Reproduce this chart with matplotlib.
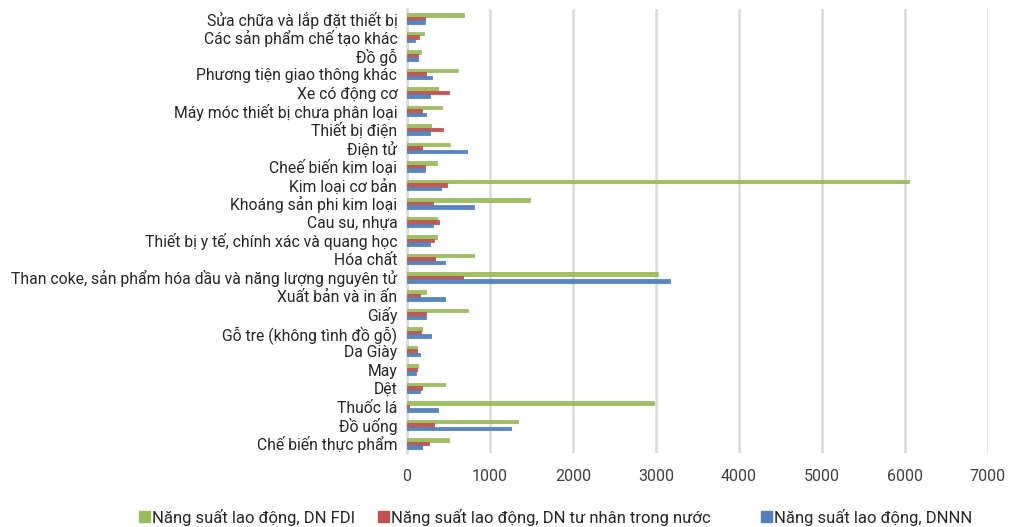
import matplotlib
matplotlib.use("Agg")
import matplotlib.pyplot as plt
import matplotlib.transforms as mtransforms
from matplotlib.patches import Patch
import numpy as np

plt.rcParams['font.family'] = ['Roboto', 'DejaVu Sans']

# Industries, listed bottom to top
categories = [
    "Chế biến thực phẩm", "Đồ uống", "Thuốc lá", "Dệt", "May", "Da Giày",
    "Gỗ tre (không tình đồ gỗ)", "Giấy", "Xuất bản và in ấn",
    "Than coke, sản phẩm hóa dầu và năng lượng nguyên tử", "Hóa chất",
    "Thiết bị y tế, chính xác và quang học", "Cau su, nhựa",
    "Khoáng sản phi kim loại", "Kim loại cơ bản", "Cheế biến kim loại",
    "Điện tử", "Thiết bị điện", "Máy móc thiết bị chưa phân loại",
    "Xe có động cơ", "Phương tiện giao thông khác", "Đồ gỗ",
    "Các sản phẩm chế tạo khác", "Sửa chữa và lắp đặt thiết bị",
]

# Labour productivity by ownership type
fdi = [508, 1339, 2972, 452, 129, 121, 177, 730, 234, 3028, 802, 359, 363,
       1480, 6050, 367, 512, 290, 427, 375, 609, 169, 202, 690]
private = [270, 323, 28, 177, 117, 117, 173, 230, 161, 669, 335, 327, 391,
           310, 484, 214, 185, 435, 185, 500, 234, 133, 149, 222]
state = [181, 1250, 375, 153, 105, 157, 286, 234, 452, 3173, 452, 278, 310,
         802, 411, 218, 718, 278, 234, 282, 298, 133, 101, 222]

series_names = [
    "Năng suất lao động, DN FDI",
    "Năng suất lao động, DN tư nhân trong nước",
    "Năng suất lao động, DNNN",
]
colors = ["#9BBB59", "#C0504D", "#4F81BD"]
x_ticks = [0, 1000, 2000, 3000, 4000, 5000, 6000, 7000]

fig = plt.figure(figsize=(10.10, 5.27), dpi=100)
ax = fig.add_axes([0.403, 0.141, 0.575, 0.841])

y = np.arange(len(categories))
h = 0.19
for vals, off, c in zip([fdi, private, state], [h, 0, -h], colors):
    ax.barh(y + off, vals, height=h, color=c, edgecolor=c, linewidth=0.6,
            alpha=0.95, zorder=3)

ax.set_xlim(0, 7000)
ax.set_ylim(-0.5, len(categories) - 0.5)
ax.set_xticks(x_ticks)
ax.set_xticklabels([str(t) for t in x_ticks], fontsize=11.5, color="#404040")
ax.set_yticks(y)
ax.set_yticklabels(categories, fontsize=11.3, color="#262626")
lift = mtransforms.ScaledTranslation(0, 2 / 72, fig.dpi_scale_trans)
for lbl in ax.get_yticklabels():
    lbl.set_transform(lbl.get_transform() + lift)
ax.tick_params(axis="both", length=0)
ax.tick_params(axis="x", pad=12)
ax.tick_params(axis="y", pad=7)
ax.grid(axis="x", color="#D9D9D9", linewidth=1.8, zorder=0)
for s in ["top", "right", "bottom"]:
    ax.spines[s].set_visible(False)
ax.spines["left"].set_color("#D9D9D9")
ax.spines["left"].set_linewidth(1.8)

legend_x = [139 / 1010, 378 / 1010, 761 / 1010]
for name, c, lx in zip(series_names, colors, legend_x):
    leg = fig.legend(handles=[Patch(facecolor=c, edgecolor=c)], labels=[name],
                     loc="center left", bbox_to_anchor=(lx, 1 - 517 / 527),
                     frameon=False, fontsize=12, handlelength=0.65,
                     handleheight=0.65, handletextpad=0.15, borderpad=0,
                     borderaxespad=0)
    for t in leg.get_texts():
        t.set_color("#262626")

fig.savefig("out.png", dpi=100, facecolor="white")
